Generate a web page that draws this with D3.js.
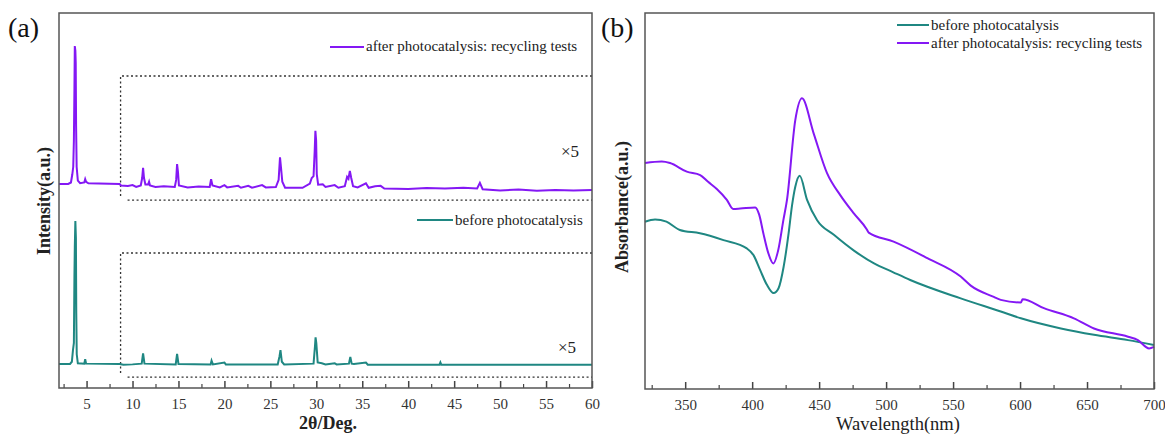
<!DOCTYPE html>
<html>
<head>
<meta charset="utf-8">
<script src="https://cdn.jsdelivr.net/npm/d3@7"></script>
<style>
  body { margin: 0; background: #fff; }
  text { font-family: "Liberation Serif", "Times New Roman", serif; }
</style>
</head>
<body>
<div id="chart"></div>
<script>
// ---- data: XRD (panel a), displayed intensity in a.u. (x5 above 8.7 deg)
var xrdAfter = [
  [2.0, 54.4], [3.0, 54.4], [3.3, 54.8], [3.45, 57], [3.55, 59], [3.62, 66], [3.68, 80],
  [3.72, 91.2], [3.78, 90], [3.82, 86.7], [3.86, 70], [3.92, 59], [4.05, 55.3], [4.3, 54.6],
  [4.75, 54.8], [4.85, 55.7], [4.95, 55.0], [5.2, 54.6], [8.6, 54.4], [8.75, 54.0], [9.5, 53.9],
  [10.0, 54.1], [10.4, 53.6], [10.9, 54], [11.05, 56], [11.15, 58.7], [11.25, 56], [11.4, 54.3],
  [11.7, 54.3], [11.8, 55.0], [11.9, 54], [12.5, 53.6], [13.4, 53.8], [14.6, 53.6], [14.75, 55.5],
  [14.85, 59.7], [14.95, 57.5], [15.05, 54], [16, 53.5], [17.2, 53.7], [18.4, 53.6], [18.55, 55.7],
  [18.7, 54], [19.5, 53.5], [20.0, 54.1], [20.3, 53.5], [21.5, 53.9], [21.8, 53.4], [22.6, 53.9],
  [23, 53.4], [24.1, 54.1], [24.5, 53.5], [25.6, 53.6], [25.9, 55.5], [26.05, 61.5], [26.15, 59],
  [26.3, 55], [26.6, 53.4], [28.5, 53.4], [29.3, 54.5], [29.5, 56.0], [29.7, 56.5], [29.82, 63],
  [29.9, 68.6], [29.98, 66], [30.05, 57], [30.2, 54.2], [30.7, 54.3], [31.0, 53.6], [32, 54.1],
  [32.4, 53.4], [33.1, 53.8], [33.35, 56.3], [33.5, 55.8], [33.65, 57.9], [33.8, 56], [34.0, 53.8],
  [34.5, 53.5], [35.4, 54.6], [35.7, 53.4], [36.4, 53.8], [37.0, 53.9], [37.4, 53.2], [40, 53.1],
  [42, 53.3], [44, 53.2], [46, 53.4], [47.5, 53.2], [47.8, 54.7], [48.1, 53.0], [50, 52.7],
  [52, 52.9], [54, 52.6], [56, 52.8], [58, 52.7], [60, 52.8]
];
var xrdBefore = [
  [2, 6.4], [3.2, 6.4], [3.4, 7.0], [3.52, 10.1], [3.62, 12], [3.68, 30], [3.72, 37.6],
  [3.78, 44.5], [3.84, 40], [3.88, 20], [3.93, 9], [4.05, 6.6], [4.75, 6.5], [4.85, 7.7],
  [4.95, 6.5], [8.6, 6.4], [9.0, 6.2], [10, 6.3], [11.0, 6.5], [11.15, 9.25], [11.3, 6.5],
  [14.7, 6.3], [14.85, 9.1], [15.0, 6.4], [18.5, 6.3], [18.6, 7.3], [18.75, 6.3], [20.0, 6.8],
  [20.15, 6.3], [25.8, 6.3], [26.0, 8.5], [26.1, 10.1], [26.25, 7], [26.5, 6.3], [29.7, 6.5],
  [29.85, 11], [29.92, 13.5], [30.0, 12], [30.15, 6.8], [30.6, 6.6], [31, 6.3], [32, 6.6],
  [32.2, 6.3], [33.55, 6.5], [33.7, 8.3], [33.85, 6.5], [34.1, 6.4], [35.4, 6.8], [35.6, 6.2],
  [43.4, 6.2], [43.5, 6.8], [43.6, 6.2], [60, 6.2]
];
// ---- data: UV-vis absorbance (panel b), a.u.
var uvBefore = [
  [320, 0.445], [327.5, 0.451], [336, 0.445], [346, 0.423], [361, 0.414], [378.6, 0.396],
  [396, 0.374], [401, 0.356], [406, 0.316], [411, 0.277], [416, 0.255], [419.7, 0.268],
  [423.5, 0.325], [427.2, 0.414], [429.8, 0.489], [432.2, 0.538], [435.5, 0.567], [441, 0.503],
  [448.5, 0.449], [461, 0.410], [476, 0.368], [491, 0.334], [505, 0.311], [518, 0.290],
  [555.7, 0.241], [585.6, 0.206], [600.6, 0.188], [630.5, 0.161], [655.2, 0.144],
  [680.6, 0.130], [700, 0.117]
];
var uvAfter = [
  [320, 0.601], [332.5, 0.605], [338.7, 0.601], [351.2, 0.578], [361.2, 0.569], [367.1, 0.551],
  [373.6, 0.532], [381.1, 0.503], [385.8, 0.479], [391.1, 0.480], [402.3, 0.483], [405.3, 0.463],
  [408.3, 0.415], [412, 0.362], [415.8, 0.334], [419.5, 0.370], [423.3, 0.449], [426, 0.503],
  [432.2, 0.715], [437.2, 0.773], [445.9, 0.680], [455.9, 0.574], [465.9, 0.515], [475.9, 0.467],
  [485.5, 0.425], [487, 0.416], [505.6, 0.392], [530.8, 0.348], [555.7, 0.299], [563.2, 0.275],
  [580.4, 0.245], [585.6, 0.237], [600.6, 0.230], [601.9, 0.239], [617.8, 0.215], [640.2, 0.188],
  [655.2, 0.161], [680.6, 0.139], [688, 0.130], [696.3, 0.108], [700, 0.112]
];
var xrdTicks = [5, 10, 15, 20, 25, 30, 35, 40, 45, 50, 55, 60];
var xrdMinor = [2.5, 7.5, 12.5, 17.5, 22.5, 27.5, 32.5, 37.5, 42.5, 47.5, 52.5, 57.5];
var uvTicks = [350, 400, 450, 500, 550, 600, 650, 700];
var uvMinor = [325, 375, 425, 475, 525, 575, 625, 675];
var magStart = 8.7;            // x5 region begins here
var boxAfter = [83.2, 50.1];   // dotted frame top/bottom (a.u.)
var boxBefore = [36.0, 2.9];

var purple = "#8418f4", teal = "#1f8782";

var svg = d3.select("#chart").append("svg")
  .attr("width", 1165).attr("height", 434)
  .style("background", "#fff");

// ---------- panel (a)
var xa = d3.scaleLinear().domain([2, 60]).range([59, 592]);
var ya = d3.scaleLinear().domain([0, 100]).range([388, 13]);

function axisBits(g, scale, major, minor, bottom) {
  g.append("g").attr("transform", "translate(0," + bottom + ")")
    .call(d3.axisBottom(scale).tickValues(major).tickSize(-7).tickPadding(10))
    .call(function(s) {
      s.select(".domain").remove();
      s.selectAll("line").attr("stroke", "#444").attr("stroke-width", 1.5);
      s.selectAll("text").attr("font-size", 15).attr("fill", "#333")
        .style("font-family", "Liberation Serif");
    });
  g.append("g").attr("transform", "translate(0," + bottom + ")")
    .call(d3.axisBottom(scale).tickValues(minor).tickSize(-4).tickFormat(""))
    .call(function(s) {
      s.select(".domain").remove();
      s.selectAll("line").attr("stroke", "#444").attr("stroke-width", 1.2);
    });
}

var ga = svg.append("g");
axisBits(ga, xa, xrdTicks, xrdMinor, 388);

var lineA = d3.line().x(function(d) { return xa(d[0]); }).y(function(d) { return ya(d[1]); });

[boxAfter, boxBefore].forEach(function(b) {
  var x0 = xa(magStart), x1 = xa(60), yt = ya(b[0]), yb = ya(b[1]);
  ga.append("path")
    .attr("d", "M" + x1 + "," + yt + "H" + x0 + "V" + (yb - 4) + "M" + (x0 + 7) + "," + yb + "H" + x1)
    .attr("fill", "none").attr("stroke", "#333").attr("stroke-width", 1.3)
    .attr("stroke-dasharray", "2,2.5");
});

ga.append("path").datum(xrdAfter).attr("d", lineA)
  .attr("fill", "none").attr("stroke", purple).attr("stroke-width", 2);
ga.append("path").datum(xrdBefore).attr("d", lineA)
  .attr("fill", "none").attr("stroke", teal).attr("stroke-width", 2);

ga.append("rect").attr("x", 59).attr("y", 13).attr("width", 533).attr("height", 375)
  .attr("fill", "none").attr("stroke", "#555").attr("stroke-width", 1.5);

ga.append("text").attr("x", 570).attr("y", 157).attr("font-size", 17)
  .attr("text-anchor", "middle").attr("fill", "#222").text("×5");
ga.append("text").attr("x", 567).attr("y", 353).attr("font-size", 17)
  .attr("text-anchor", "middle").attr("fill", "#222").text("×5");

// legends (a)
ga.append("line").attr("x1", 330).attr("x2", 364).attr("y1", 47).attr("y2", 47)
  .attr("stroke", purple).attr("stroke-width", 2);
ga.append("text").attr("x", 366).attr("y", 51).attr("font-size", 15).attr("fill", "#222")
  .text("after photocatalysis: recycling tests");
ga.append("line").attr("x1", 417).attr("x2", 453).attr("y1", 220).attr("y2", 220)
  .attr("stroke", teal).attr("stroke-width", 2);
ga.append("text").attr("x", 455).attr("y", 225).attr("font-size", 15).attr("fill", "#222")
  .text("before photocatalysis");

ga.append("text").attr("x", 328).attr("y", 429).attr("font-size", 18)
  .attr("font-weight", "bold").attr("text-anchor", "middle").attr("fill", "#222").text("2θ/Deg.");
ga.append("text").attr("transform", "translate(50,201) rotate(-90)").attr("font-size", 18)
  .attr("font-weight", "bold").attr("text-anchor", "middle").attr("fill", "#222").text("Intensity(a.u.)");
ga.append("text").attr("x", 8).attr("y", 37).attr("font-size", 28).attr("fill", "#111").text("(a)");

// ---------- panel (b)
var xb = d3.scaleLinear().domain([320, 700]).range([645, 1154]);
var yb = d3.scaleLinear().domain([0, 1]).range([389, 13]);
var gb = svg.append("g");
axisBits(gb, xb, uvTicks, uvMinor, 389);

var lineB = d3.line().curve(d3.curveMonotoneX)
  .x(function(d) { return xb(d[0]); }).y(function(d) { return yb(d[1]); });

gb.append("path").datum(uvBefore).attr("d", lineB)
  .attr("fill", "none").attr("stroke", teal).attr("stroke-width", 2);
gb.append("path").datum(uvAfter).attr("d", lineB)
  .attr("fill", "none").attr("stroke", purple).attr("stroke-width", 2);

gb.append("rect").attr("x", 645).attr("y", 13).attr("width", 509).attr("height", 376)
  .attr("fill", "none").attr("stroke", "#555").attr("stroke-width", 1.5);

var legB = [["before photocatalysis", teal, 25], ["after photocatalysis: recycling tests", purple, 43]];
legB.forEach(function(l) {
  gb.append("line").attr("x1", 897).attr("x2", 929).attr("y1", l[2]).attr("y2", l[2])
    .attr("stroke", l[1]).attr("stroke-width", 2);
  gb.append("text").attr("x", 931).attr("y", l[2] + 5).attr("font-size", 15).attr("fill", "#222").text(l[0]);
});

gb.append("text").attr("x", 898).attr("y", 430).attr("font-size", 18.5)
  .attr("text-anchor", "middle").attr("fill", "#222").text("Wavelength(nm)");
gb.append("text").attr("transform", "translate(628,207) rotate(-90)").attr("font-size", 18)
  .attr("font-weight", "bold").attr("text-anchor", "middle").attr("fill", "#222").text("Absorbance(a.u.)");
gb.append("text").attr("x", 601).attr("y", 37).attr("font-size", 28).attr("fill", "#111").text("(b)");
</script>
</body>
</html>
